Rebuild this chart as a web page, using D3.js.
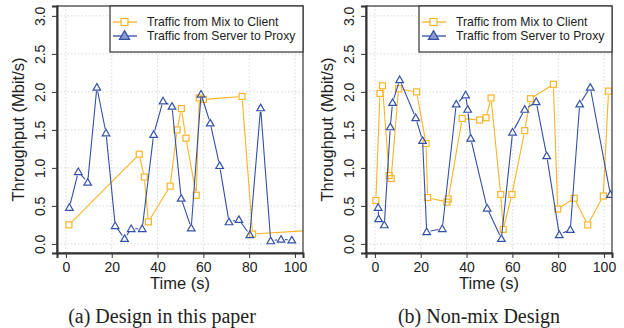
<!DOCTYPE html>
<html>
<head>
<meta charset="utf-8">
<script src="https://cdn.jsdelivr.net/npm/d3@7"></script>
<style>
  body { margin: 0; background: #fff; }
  text { font-family: "Liberation Sans", Arial, sans-serif; fill: #222; }
  .caption { font-family: "Liberation Serif", "Times New Roman", serif; }
</style>
</head>
<body>
<svg id="chart" width="624" height="328"></svg>
<script>
// (a) Design in this paper
var mixTimeA = [1.3, 32, 34.2, 36, 45.5, 48.5, 50.4, 52.4, 56.9, 58.2, 60, 76.9, 81.5, 108];
var mixRateA = [0.25, 1.18, 0.88, 0.29, 0.76, 1.50, 1.78, 1.39, 0.64, 1.92, 1.90, 1.94, 0.13, 0.18];
var srvTimeA = [1.5, 5.4, 9.5, 13.5, 17.5, 21.5, 25.6, 28.5, 33.3, 38.3, 42.4, 46.3, 50.3, 54.7, 59, 63, 67.1, 71.2, 75.5, 80.3, 85, 89.4, 93.9, 98.6];
var srvRateA = [0.48, 0.95, 0.81, 2.06, 1.46, 0.24, 0.07, 0.2, 0.2, 1.44, 1.88, 1.81, 0.6, 0.21, 1.97, 1.59, 1.03, 0.29, 0.32, 0.12, 1.79, 0.04, 0.06, 0.05];

// (b) Non-mix Design
var mixTimeB = [0.4, 2.2, 3.3, 6.2, 7.1, 10.3, 18.2, 22.3, 23, 31.4, 32, 38.1, 45.7, 48.5, 50.7, 54.9, 56, 59.8, 65.4, 67.9, 77.9, 79.8, 87, 92.9, 99.7, 102];
var mixRateB = [0.57, 1.98, 2.08, 0.9, 0.86, 2.04, 2.0, 1.32, 0.61, 0.55, 0.59, 1.65, 1.63, 1.66, 1.92, 0.65, 0.19, 0.65, 1.49, 1.91, 2.10, 0.46, 0.6, 0.25, 0.63, 2.01];
var srvTimeB = [1.4, 1.6, 4.1, 6.7, 7.7, 10.8, 17.8, 20.8, 22.6, 29.4, 35.5, 39.6, 40.5, 41.8, 49, 55.2, 60.1, 65.4, 70.4, 75, 80.5, 85.3, 89.4, 94, 102.8];
var srvRateB = [0.48, 0.33, 0.25, 1.54, 1.86, 2.16, 1.66, 1.36, 0.16, 0.2, 1.84, 1.96, 1.77, 1.39, 0.47, 0.07, 1.47, 1.77, 1.87, 1.16, 0.12, 0.19, 1.84, 2.06, 0.65];

var xTicks = [0, 20, 40, 60, 80, 100];
var yTicks = [0, 0.5, 1, 1.5, 2, 2.5, 3];
var seriesNames = ["Traffic from Mix to Client", "Traffic from Server to Proxy"];
var captions = ["(a) Design in this paper", "(b) Non-mix Design"];

var orange = "#FBB424";
var blue = "#3350A8";

var svg = d3.select("#chart");

var plotTop = 6, plotBottom = 253, plotW = 246;

var panels = [
  {left: 57, capX: 162, mixT: mixTimeA, mixV: mixRateA, srvT: srvTimeA, srvV: srvRateA, caption: captions[0]},
  {left: 366, capX: 479, mixT: mixTimeB, mixV: mixRateB, srvT: srvTimeB, srvV: srvRateB, caption: captions[1]}
];

var triangle = d3.symbol().type(d3.symbolTriangle).size(25);

panels.forEach(function(p, i) {
  var x = d3.scaleLinear().domain([-3.9, 103.5]).range([p.left, p.left + plotW]);
  var y = d3.scaleLinear().domain([-0.12, 3.13]).range([plotBottom, plotTop]);

  var g = svg.append("g");

  // clip for the plot region
  var clipId = "clip" + i;
  svg.append("clipPath").attr("id", clipId)
    .append("rect")
    .attr("x", p.left).attr("y", plotTop)
    .attr("width", plotW).attr("height", plotBottom - plotTop);

  // dotted grid
  g.selectAll(".gx").data(xTicks).enter().append("line")
    .attr("x1", d => x(d)).attr("x2", d => x(d))
    .attr("y1", plotTop).attr("y2", plotBottom)
    .attr("stroke", "#d9d9d9").attr("stroke-dasharray", "1.5,2");
  g.selectAll(".gy").data(yTicks).enter().append("line")
    .attr("x1", p.left).attr("x2", p.left + plotW)
    .attr("y1", d => y(d)).attr("y2", d => y(d))
    .attr("stroke", "#d9d9d9").attr("stroke-dasharray", "1.5,2");

  // series, drawn like R's type="b" (lines stop short of the points)
  var plot = g.append("g").attr("clip-path", "url(#" + clipId + ")");

  function drawSeries(ts, vs, color, shape) {
    var pts = ts.map((t, k) => [x(t), y(vs[k])]);
    var gap = 4;
    var path = d3.path();
    for (var k = 0; k < pts.length - 1; k++) {
      var a = pts[k], b = pts[k + 1];
      var dx = b[0] - a[0], dy = b[1] - a[1];
      var len = Math.sqrt(dx * dx + dy * dy);
      if (len <= 2 * gap) continue;
      var ux = dx / len, uy = dy / len;
      path.moveTo(a[0] + ux * gap, a[1] + uy * gap);
      path.lineTo(b[0] - ux * gap, b[1] - uy * gap);
    }
    plot.append("path").attr("d", path.toString())
      .attr("fill", "none").attr("stroke", color).attr("stroke-width", 1.1);

    if (shape === "square") {
      plot.selectAll(null).data(pts).enter().append("rect")
        .attr("x", d => d[0] - 3).attr("y", d => d[1] - 3)
        .attr("width", 6).attr("height", 6)
        .attr("fill", "none").attr("stroke", color).attr("stroke-width", 1.2);
    } else {
      plot.selectAll(null).data(pts).enter().append("path")
        .attr("d", triangle)
        .attr("transform", d => "translate(" + d[0] + "," + (d[1] + 0.7) + ")")
        .attr("fill", "none").attr("stroke", color).attr("stroke-width", 1.2);
    }
  }

  drawSeries(p.mixT, p.mixV, orange, "square");
  drawSeries(p.srvT, p.srvV, blue, "triangle");

  // box
  g.append("rect")
    .attr("x", p.left).attr("y", plotTop)
    .attr("width", plotW).attr("height", plotBottom - plotTop)
    .attr("fill", "none").attr("stroke", "#333").attr("stroke-width", 1.2);

  // axes
  var xAxis = g.append("g")
    .attr("transform", "translate(0," + plotBottom + ")")
    .call(d3.axisBottom(x).tickValues(xTicks).tickSize(5).tickPadding(4).tickFormat(d3.format("d")));
  xAxis.select(".domain").attr("stroke", "#333").attr("stroke-width", 2);
  xAxis.selectAll(".tick line").attr("stroke", "#333");
  xAxis.selectAll(".tick text")
    .style("font-family", "Liberation Sans, Arial, sans-serif")
    .style("font-size", "14px").attr("fill", "#222");

  var yAxis = g.append("g")
    .attr("transform", "translate(" + p.left + ",0)")
    .call(d3.axisLeft(y).tickValues(yTicks).tickSize(5).tickFormat(d3.format(".1f")));
  yAxis.select(".domain").attr("stroke", "#333").attr("stroke-width", 2);
  yAxis.selectAll(".tick line").attr("stroke", "#333");
  yAxis.selectAll(".tick text")
    .attr("x", null).attr("dy", null)
    .attr("transform", "translate(-12,0) rotate(-90)")
    .attr("text-anchor", "middle")
    .style("font-family", "Liberation Sans, Arial, sans-serif")
    .style("font-size", "14px").attr("fill", "#222");

  // axis titles
  g.append("text")
    .attr("transform", "translate(" + (p.left - 33) + "," + ((plotTop + plotBottom) / 2) + ") rotate(-90)")
    .attr("text-anchor", "middle")
    .style("font-size", "16.5px")
    .text("Throughput (Mbit/s)");

  g.append("text")
    .attr("x", p.left + plotW / 2).attr("y", 289)
    .attr("text-anchor", "middle")
    .style("font-size", "16.5px")
    .text("Time (s)");

  // legend
  var lx = p.left + plotW - 193;
  var legend = g.append("g");
  legend.append("rect")
    .attr("x", lx).attr("y", plotTop)
    .attr("width", 193).attr("height", 46)
    .attr("fill", "#fff").attr("stroke", "#333").attr("stroke-width", 1.2);
  var rows = [{name: seriesNames[0], color: orange, shape: "square", y: 22},
              {name: seriesNames[1], color: blue, shape: "triangle", y: 36}];
  rows.forEach(function(r) {
    legend.append("line")
      .attr("x1", lx + 3).attr("x2", lx + 27)
      .attr("y1", r.y).attr("y2", r.y)
      .attr("stroke", r.color).attr("stroke-width", 2).attr("opacity", 0.65);
    if (r.shape === "square") {
      legend.append("rect")
        .attr("x", lx + 11).attr("y", r.y - 3.5).attr("width", 7).attr("height", 7)
        .attr("fill", "#fff").attr("stroke", r.color).attr("stroke-width", 1.2);
    } else {
      legend.append("path")
        .attr("d", d3.symbol().type(d3.symbolTriangle).size(45))
        .attr("transform", "translate(" + (lx + 14.5) + "," + (r.y + 0.5) + ")")
        .attr("fill", "#8a98cc").attr("stroke", r.color).attr("stroke-width", 1.2);
    }
    legend.append("text")
      .attr("x", lx + 37).attr("y", r.y + 4.3)
      .style("font-size", "12.2px")
      .text(r.name);
  });

  // sub caption
  svg.append("text")
    .attr("class", "caption")
    .attr("x", p.capX).attr("y", 323)
    .attr("text-anchor", "middle")
    .style("font-size", "20px")
    .text(p.caption);
});
</script>
</body>
</html>
